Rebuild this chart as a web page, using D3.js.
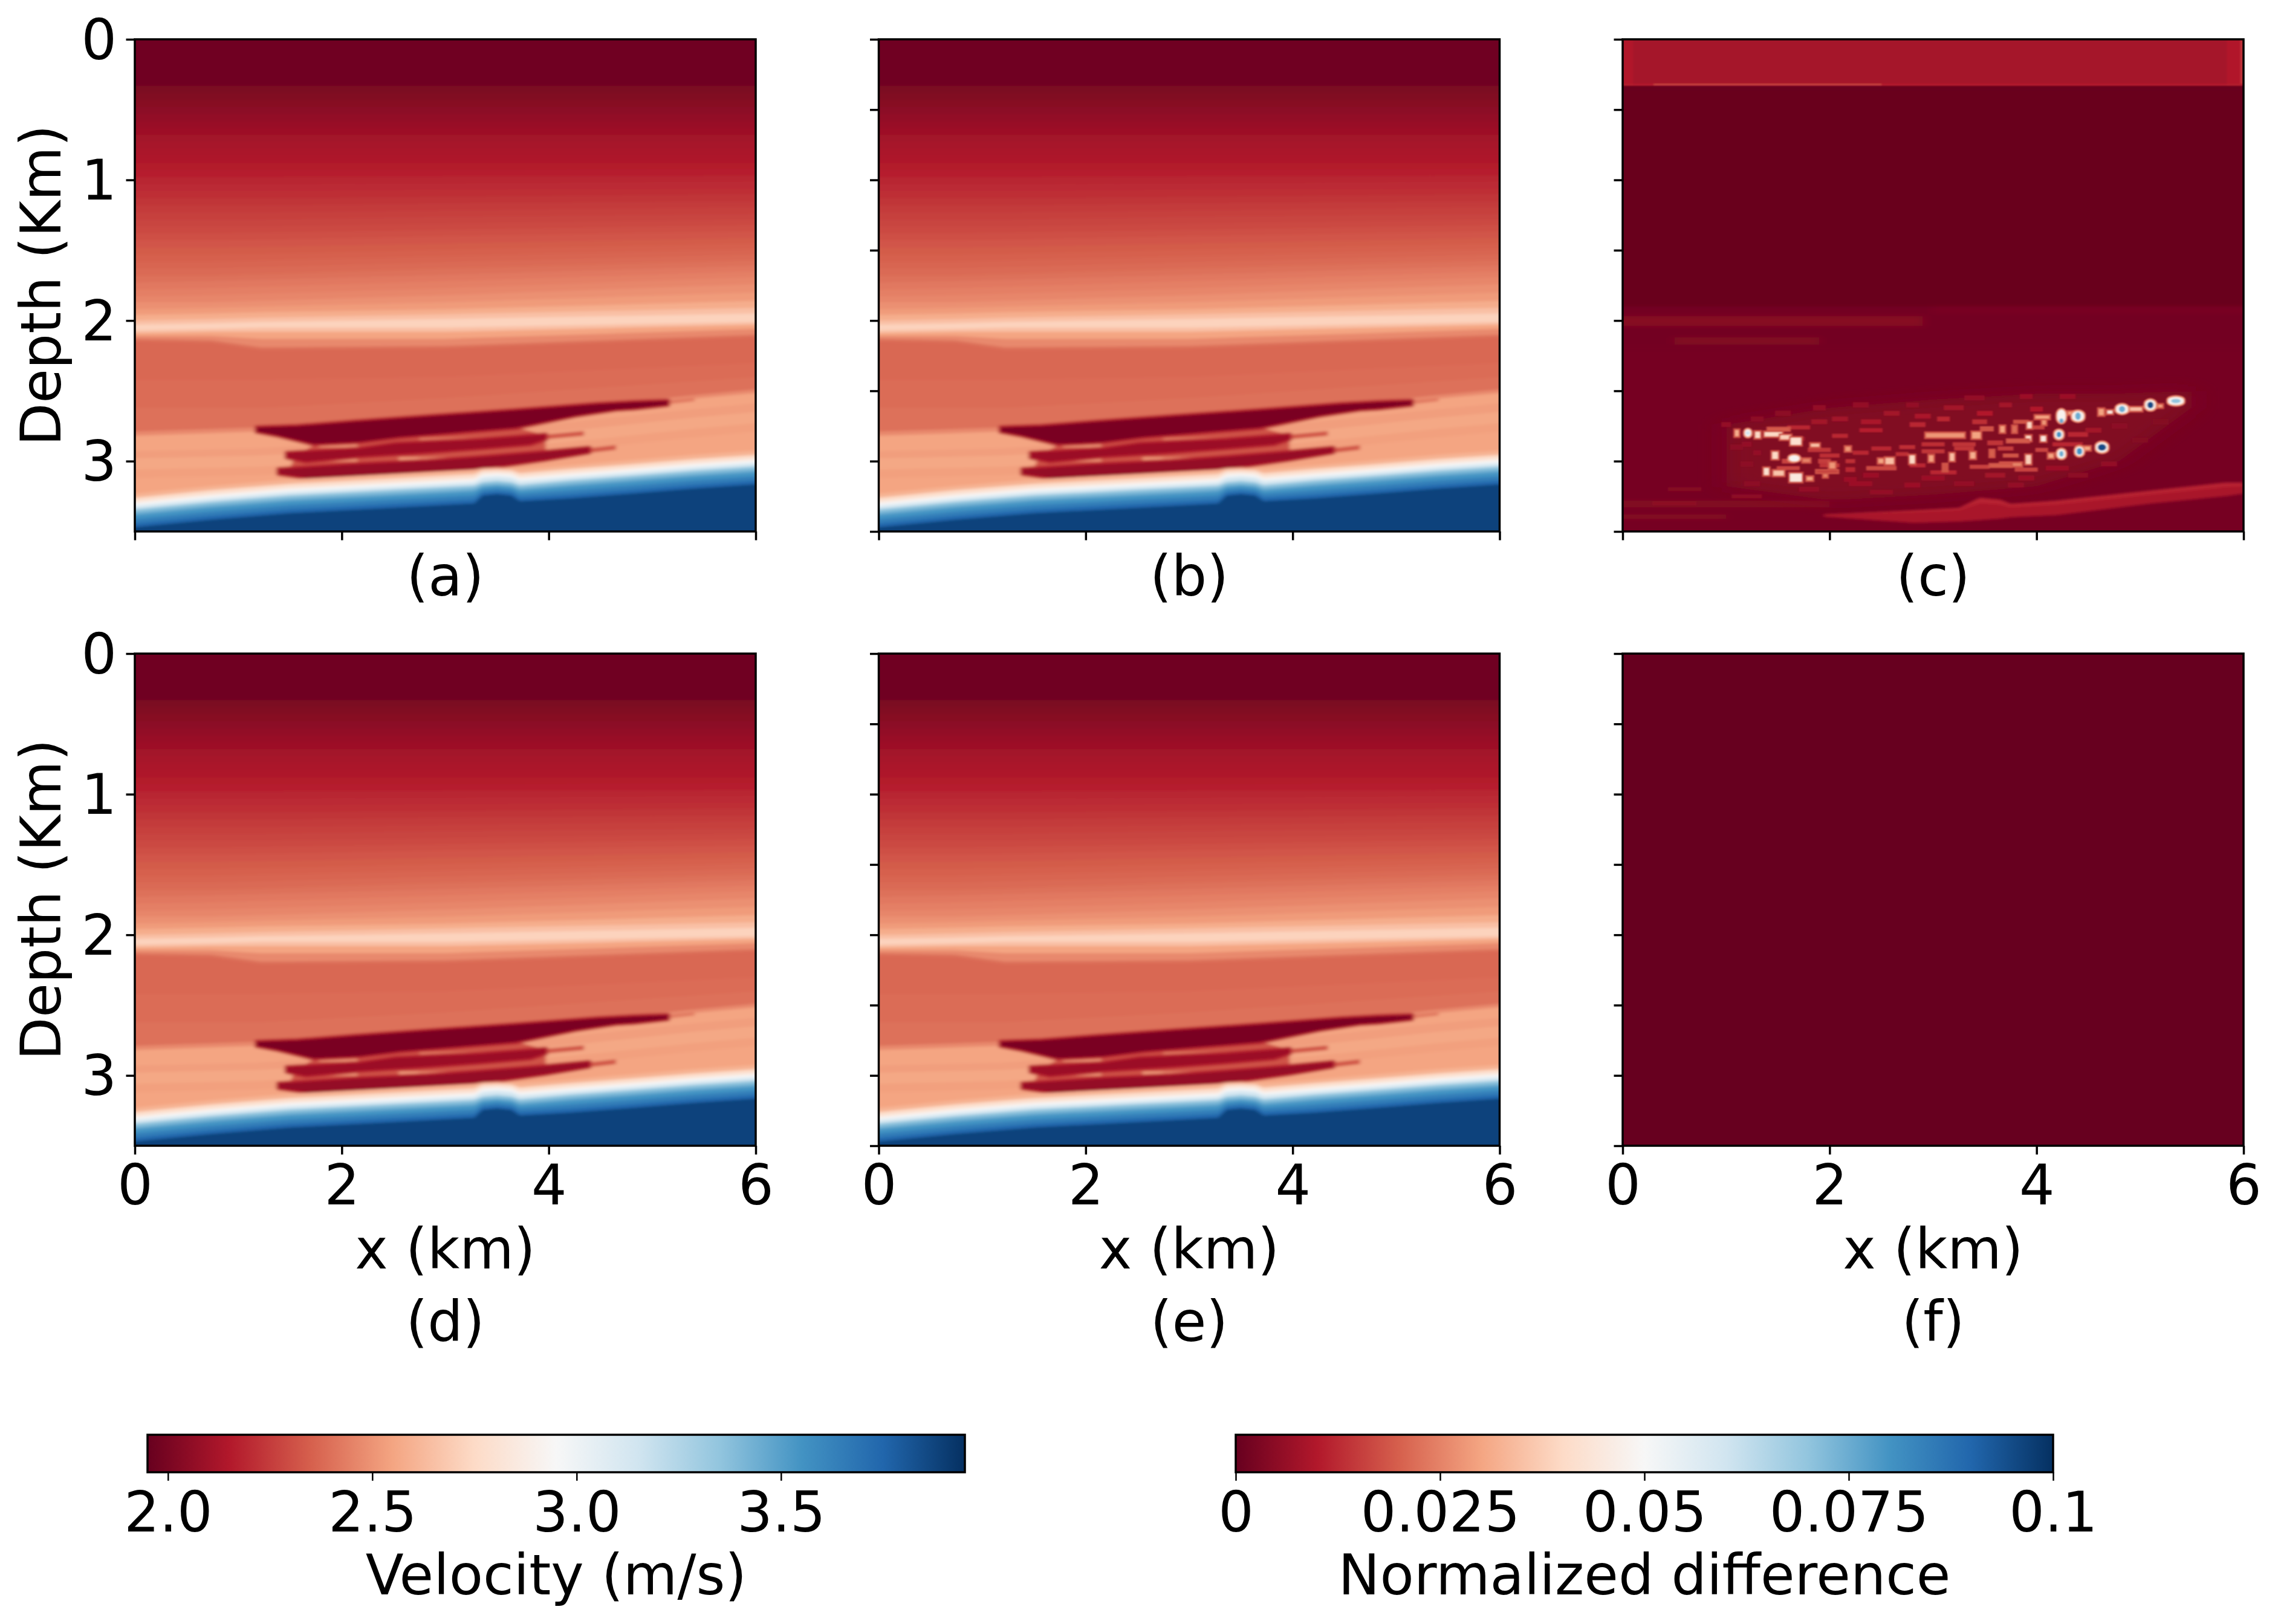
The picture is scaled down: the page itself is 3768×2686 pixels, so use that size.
<!DOCTYPE html>
<html>
<head>
<meta charset="utf-8">
<script src="https://cdn.jsdelivr.net/npm/d3@7"></script>
<style>
  body { margin: 0; background: #fff; }
  text { font-family: "DejaVu Sans", sans-serif; fill: #000; }
</style>
</head>
<body>
<svg id="chart" width="3768" height="2686"></svg>
<script>
// colour map, same stops for both colorbars
const rdbu = ["#67001f","#b2182b","#d6604d","#f4a582","#fddbc7","#f7f7f7","#d1e5f0","#92c5de","#4393c3","#2166ac","#053061"];
const velocityRange = [1.95, 3.95];
const diffRange = [0, 0.1];

const panelLabels = ["(a)", "(b)", "(c)", "(d)", "(e)", "(f)"];
const panelKinds = ["model", "model", "diff", "model", "model", "flat"];
const xTicks = [0, 2, 4, 6];
const depthTicks = [0, 1, 2, 3];
const depthMinorTicks = [0, 0.5, 1, 1.5, 2, 2.5, 3, 3.5];
const velocityTicks = [2.0, 2.5, 3.0, 3.5];
const velocityTickLabels = ["2.0", "2.5", "3.0", "3.5"];
const diffTicks = [0, 0.025, 0.05, 0.075, 0.1];
const diffTickLabels = ["0", "0.025", "0.05", "0.075", "0.1"];

// velocity contours of the upper part, depth (km) at each of these x (km)
const upperX = [0, 0.74, 1.22, 3, 6];
const upperV = [1.97, 2.005, 2.02, 2.035, 2.05, 2.065, 2.08, 2.095, 2.11, 2.12, 2.13, 2.14, 2.155, 2.17, 2.185, 2.20, 2.215, 2.23, 2.245, 2.26, 2.275, 2.29, 2.305, 2.32, 2.335, 2.35, 2.365, 2.38, 2.40, 2.42, 2.44, 2.46, 2.49, 2.52, 2.58, 2.65, 2.72, 2.65, 2.55, 2.47, 2.40, 2.37, 2.385, 2.40];
const upperDepth = [
  [-0.3, -0.3, -0.3, -0.3, -0.3],
  [0.33, 0.33, 0.33, 0.33, 0.33],
  [0.38, 0.38, 0.38, 0.38, 0.38],
  [0.43, 0.43, 0.43, 0.43, 0.43],
  [0.48, 0.48, 0.48, 0.48, 0.48],
  [0.53, 0.53, 0.53, 0.53, 0.53],
  [0.58, 0.58, 0.58, 0.58, 0.58],
  [0.63, 0.63, 0.63, 0.63, 0.63],
  [0.68, 0.68, 0.68, 0.68, 0.68],
  [0.73, 0.73, 0.73, 0.73, 0.73],
  [0.78, 0.78, 0.78, 0.78, 0.78],
  [0.83, 0.83, 0.83, 0.83, 0.83],
  [0.88, 0.88, 0.88, 0.88, 0.88],
  [0.93, 0.93, 0.93, 0.93, 0.92],
  [0.98, 0.98, 0.98, 0.975, 0.97],
  [1.03, 1.03, 1.03, 1.025, 1.01],
  [1.08, 1.08, 1.08, 1.07, 1.06],
  [1.13, 1.13, 1.13, 1.12, 1.10],
  [1.18, 1.18, 1.18, 1.165, 1.15],
  [1.23, 1.23, 1.23, 1.215, 1.19],
  [1.28, 1.28, 1.28, 1.26, 1.24],
  [1.33, 1.33, 1.33, 1.31, 1.28],
  [1.38, 1.38, 1.375, 1.355, 1.32],
  [1.43, 1.43, 1.425, 1.40, 1.365],
  [1.48, 1.48, 1.475, 1.45, 1.41],
  [1.53, 1.53, 1.525, 1.495, 1.45],
  [1.58, 1.58, 1.57, 1.54, 1.49],
  [1.63, 1.63, 1.62, 1.585, 1.53],
  [1.68, 1.68, 1.67, 1.63, 1.57],
  [1.73, 1.72, 1.71, 1.675, 1.61],
  [1.78, 1.77, 1.76, 1.72, 1.65],
  [1.83, 1.82, 1.81, 1.77, 1.69],
  [1.87, 1.87, 1.86, 1.82, 1.74],
  [1.92, 1.91, 1.90, 1.87, 1.80],
  [1.96, 1.95, 1.94, 1.92, 1.86],
  [2.00, 1.99, 1.98, 1.955, 1.91],
  [2.03, 2.02, 2.01, 1.99, 1.95],
  [2.07, 2.06, 2.05, 2.05, 2.01],
  [2.09, 2.08, 2.08, 2.08, 2.03],
  [2.11, 2.11, 2.13, 2.13, 2.06],
  [2.13, 2.14, 2.19, 2.18, 2.10],
  [2.15, 2.16, 2.21, 2.20, 2.12],
  [2.42, 2.42, 2.42, 2.40, 2.30],
  [2.62, 2.62, 2.62, 2.55, 2.40]
];

// sediment layer under the reflector, same idea
const midX = [0, 1.18, 2.5, 3.7, 4.5, 5.4, 6];
const midV = [2.47, 2.55, 2.53, 2.56, 2.535, 2.55];
const midDepth = [
  [2.79, 2.76, 2.76, 2.66, 2.60, 2.53, 2.49],
  [2.82, 2.79, 2.78, 2.68, 2.62, 2.555, 2.515],
  [2.93, 2.91, 2.85, 2.76, 2.70, 2.63, 2.59],
  [2.98, 2.96, 2.91, 2.82, 2.76, 2.69, 2.65],
  [3.06, 3.04, 2.99, 2.90, 2.84, 2.77, 2.73],
  [3.12, 3.10, 3.05, 2.96, 2.90, 2.83, 2.79]
];

// dipping interface and the bump near x = 3.5
const seabedX = [0, 0.74, 1.5, 2.4, 3.28, 3.36, 3.5, 3.64, 3.72, 4.2, 4.83, 5.4, 6];
const seabedV = [2.6, 2.75, 2.85, 2.95, 3.05, 3.15, 3.35, 3.45, 3.55, 3.65, 3.75, 3.88];
const seabedDepth = [
  [3.23, 3.176, 3.13, 3.095, 3.06, 3.05, 3.045, 3.05, 3.055, 3.03, 2.99, 2.955, 2.925],
  [3.26, 3.206, 3.16, 3.125, 3.09, 3.065, 3.06, 3.065, 3.085, 3.055, 3.02, 2.985, 2.955],
  [3.282, 3.228, 3.182, 3.147, 3.113, 3.08, 3.075, 3.08, 3.106, 3.077, 3.041, 3.007, 2.977],
  [3.30, 3.246, 3.20, 3.165, 3.131, 3.098, 3.09, 3.098, 3.124, 3.095, 3.059, 3.025, 2.995],
  [3.312, 3.258, 3.212, 3.177, 3.143, 3.11, 3.102, 3.11, 3.136, 3.107, 3.071, 3.037, 3.007],
  [3.325, 3.271, 3.225, 3.19, 3.156, 3.125, 3.115, 3.125, 3.15, 3.12, 3.084, 3.05, 3.02],
  [3.342, 3.288, 3.242, 3.207, 3.173, 3.15, 3.14, 3.15, 3.17, 3.137, 3.101, 3.067, 3.037],
  [3.363, 3.309, 3.263, 3.228, 3.194, 3.168, 3.16, 3.168, 3.19, 3.158, 3.122, 3.088, 3.058],
  [3.384, 3.33, 3.284, 3.249, 3.215, 3.185, 3.175, 3.185, 3.21, 3.179, 3.143, 3.109, 3.079],
  [3.414, 3.36, 3.314, 3.279, 3.245, 3.205, 3.195, 3.205, 3.235, 3.209, 3.173, 3.139, 3.109],
  [3.444, 3.39, 3.344, 3.309, 3.275, 3.225, 3.215, 3.225, 3.26, 3.239, 3.203, 3.169, 3.139],
  [3.47, 3.416, 3.37, 3.335, 3.301, 3.245, 3.235, 3.245, 3.285, 3.265, 3.229, 3.195, 3.165]
];

// low velocity lenses as outlines [x, depth]
const lensV = [2.31, 2.33, 2.33, 2.43, 2.0, 2.09, 2.07];
const lensEdge = [false, false, false, false, true, true, true];
const lensOutlines = [
  // lighter fill between the lenses
  [[1.55,2.96],[1.75,2.88],[2.2,2.86],[3.68,2.76],[3.97,2.815],[3.97,2.94],[3.35,2.97],[2.17,3.02],[1.5,3.05]],
  // faint tails
  [[3.9,2.815],[4.34,2.785],[4.34,2.82],[3.9,2.85]],
  [[4.3,2.915],[4.65,2.885],[4.65,2.92],[4.3,2.95]],
  [[5.1,2.575],[5.41,2.55],[5.41,2.575],[5.1,2.60]],
  // lens 1
  [[1.18,2.762],[1.57,2.752],[2.15,2.718],[2.90,2.679],[3.68,2.639],[4.47,2.595],[4.83,2.581],[5.15,2.572],[5.15,2.598],[4.83,2.624],[4.65,2.632],[4.26,2.675],[3.68,2.762],[2.56,2.827],[2.17,2.863],[1.73,2.878],[1.36,2.813],[1.18,2.789]],
  // lens 2
  [[1.47,2.943],[2.17,2.914],[2.51,2.878],[3.35,2.849],[3.97,2.813],[3.97,2.842],[3.82,2.878],[3.35,2.907],[2.82,2.936],[2.17,2.965],[1.65,3.001],[1.47,2.972]],
  // lens 3
  [[1.39,3.059],[2.17,3.023],[2.82,3.001],[3.35,2.972],[3.97,2.936],[4.39,2.907],[4.39,2.936],[3.97,2.987],[3.35,3.052],[2.82,3.074],[2.17,3.11],[1.73,3.132],[1.6,3.11],[1.39,3.088]]
];

// lighter patches inside the lens gaps: x0, x1, depth, velocity
const gapStreaks = [
  [1.78, 2.15, 2.89, 2.5], [2.75, 3.2, 2.985, 2.47], [2.55, 2.75, 2.985, 2.52], [1.8, 2.15, 2.99, 2.5], [2.75, 3.4, 2.845, 2.42]
];

// panel (c): boxes x0, x1, depth0, depth1, value
const diffBroad = [
  [-0.2, 6.2, 0.34, 1.9, 0.0002],
  [-0.2, 6.2, 1.9, 2.2, 0.0016],
  [-0.2, 2.9, 1.97, 2.04, 0.0042],
  [3.0, 6.2, 1.9, 1.95, 0.0024],
  [0.5, 1.9, 2.12, 2.17, 0.0036],
  [-0.2, 6.2, 2.2, 3.7, 0.002],
  [-0.2, 2, 3.28, 3.33, 0.0036],
  [-0.2, 1, 3.38, 3.41, 0.004]
];
const diffTop = [
  [0, 6, 0, 0.33, 0.0082],
  [0, 0.1, 0, 0.33, 0.0098],
  [5.84, 6, 0, 0.33, 0.0098],
  [5.97, 6, 0, 0.33, 0.014],
  [0, 6, 0.315, 0.33, 0.0105],
  [0.3, 2.5, 0.316, 0.328, 0.016]
];
const diffHaloOutline = [[1.0,2.74],[2,2.62],[3,2.56],[4,2.52],[4.7,2.52],[5.5,2.5],[5.5,2.62],[4.8,3.0],[4,3.18],[3,3.24],[2,3.28],[1.0,3.18]];
const seabedBandX = [1.94, 2.81, 3.25, 3.45, 3.65, 3.75, 4.19, 5.09, 5.83, 6];
const seabedBandTop = [3.38, 3.35, 3.332, 3.26, 3.274, 3.303, 3.281, 3.21, 3.152, 3.152];
const seabedBandBottom = [3.395, 3.44, 3.43, 3.42, 3.41, 3.40, 3.385, 3.303, 3.25, 3.231];
const seabedBandBright = [3.385, 3.365, 3.35, 3.30, 3.31, 3.33, 3.31, 3.24, 3.185, 3.18];

// speckle: x, depth, width, height, value
const speckle = [
  [1.3,2.7,.1,.02,.005],[1.55,2.66,.13,.02,.005],[1.9,2.62,.1,.02,.006],[2.3,2.6,.13,.02,.006],[2.8,2.6,.1,.017,.006],[3.4,2.55,.17,.017,.006],[3.9,2.54,.1,.017,.007],[4.3,2.54,.13,.017,.007],
  [4.0,2.63,.1,.017,.01],[3.5,2.66,.13,.017,.01],[2.9,2.68,.13,.017,.009],[2.4,2.72,.17,.017,.009],[1.9,2.72,.13,.017,.008],[1.1,2.9,.1,.02,.005],[1.2,3.02,.1,.02,.005],[1.25,3.16,.13,.02,.005],
  [1.8,3.2,.17,.017,.006],[2.3,3.16,.2,.017,.007],[2.8,3.17,.13,.017,.007],[3.3,3.16,.17,.017,.006],[3.8,3.17,.13,.017,.006],[4.4,3.1,.17,.017,.005],[4.7,3.02,.13,.017,.006],[5.0,2.85,.13,.02,.004],
  [5.2,2.72,.13,.02,.004],[4.8,2.75,.13,.02,.005],[2.5,3.22,.2,.014,.006],[1.2,3.25,.27,.012,.005],[0.6,3.2,.3,.012,.004],[0.5,3.3,.4,.012,.005],[1.7,2.84,.1,.012,.008],[2.2,3.13,.1,.017,.007],
  [1.7,2.76,.2,.012,.012],[2.1,2.82,.13,.012,.012],[2.4,2.78,.2,.012,.011],[2.85,2.74,.13,.017,.012],[3.1,2.7,.1,.017,.012],[3.45,2.72,.12,.017,.013],
  [1.9,2.92,.2,.014,.014],[2.0,2.96,.17,.012,.013],[2.3,2.94,.13,.012,.012],[2.5,2.91,.17,.012,.012],[2.75,2.9,.13,.012,.013],[3.0,2.88,.2,.012,.013],
  [3.3,2.88,.2,.012,.014],[3.6,2.87,.13,.017,.014],[2.7,2.95,.1,.012,.013],[3.0,2.93,.2,.012,.014],[3.3,2.91,.17,.012,.014],[3.7,2.91,.13,.012,.015],
  [1.6,3.0,.1,.017,.016],[1.95,3.0,.1,.017,.015],[2.2,3.0,.07,.012,.013],[1.6,3.05,.2,.012,.016],[2.0,3.03,.17,.012,.014],[2.2,3.06,.07,.017,.012],
  [2.5,3.05,.27,.014,.017],[2.85,3.03,.13,.012,.012],[3.1,3.08,.23,.012,.012],[3.45,3.04,.17,.012,.016],[3.9,3.06,.2,.012,.016],[2.4,3.1,.13,.017,.007],
  [3.0,3.12,.2,.017,.007],[3.6,3.1,.17,.017,.008],[3.9,3.12,.13,.017,.007],[4.2,3.05,.2,.017,.007],[2.1,2.7,.13,.017,.008],[2.6,2.66,.13,.017,.008],
  [3.2,2.62,.17,.017,.008],[3.7,2.6,.1,.017,.008],[4.3,2.88,.27,.012,.012],[4.4,2.81,.17,.017,.012],[4.55,2.78,.13,.017,.008],[4.05,2.92,.1,.012,.016],
  [3.75,2.96,.13,.012,.018],[4.0,2.76,.13,.012,.016],[3.85,2.72,.13,.012,.018],[1.2,2.88,.07,.017,.006],[1.0,2.74,.07,.017,.006],[1.3,2.94,.05,.017,.006]
];
const brightCells = [
  [1.104,2.801,.034,.043,.032],[1.305,2.813,.047,.043,.04],[1.507,2.773,.2,.011,.02],[1.456,2.809,.168,.029,.04],[1.574,2.83,.1,.029,.038],[1.674,2.859,.1,.05,.042],
  [1.859,2.887,.08,.02,.035],[1.473,2.959,.054,.049,.04],[1.775,2.995,.067,.02,.025],[2.026,3.031,.054,.04,.028],[2.177,2.913,.047,.029,.028],[1.389,3.074,.047,.049,.042],
  [1.507,3.085,.1,.034,.036],[1.674,3.117,.114,.057,.045],[1.808,3.124,.054,.023,.03],[1.959,3.102,.034,.02,.025],[1.976,3.074,.2,.011,.015],[2.58,2.999,.08,.043,.035],
  [2.496,2.999,.047,.029,.03],[2.798,2.988,.047,.057,.04],[2.982,2.981,.04,.043,.03],[3.183,2.971,.04,.052,.035],[3.384,2.959,.047,.043,.032],[3.569,2.945,.034,.043,.02],
  [3.116,2.816,.37,.029,.028],[3.418,2.816,.08,.043,.03],[3.921,2.988,.047,.063,.038],[4.139,2.962,.047,.029,.03],[3.753,3.024,.2,.02,.025],[3.653,3.031,.2,.011,.02],
  [3.116,3.045,.034,.043,.018],[3.921,2.837,.047,.034,.04],[4.065,2.84,.047,.037,.045],[3.82,2.856,.2,.011,.02],[3.67,2.773,.04,.043,.03],[3.787,2.773,.034,.043,.022],
  [3.931,2.744,.04,.043,.04],[4.072,2.723,.034,.034,.028],[4.055,2.687,.134,.02,.03],[4.625,2.651,.047,.043,.03],[4.709,2.651,.047,.02,.045],[4.96,2.63,.114,.023,.035],
  [5.195,2.608,.04,.017,.03],[4.491,2.909,.054,.023,.03],[3.519,2.77,.1,.011,.018],[4.357,2.658,.1,.017,.03]
];
// white halos with a blue core: x, depth, halo w, halo h, core w, core h, core value, core depth
const hotSpots = [
  [5.346,2.572,.15,.057,.084,.026,.07,2.572],
  [5.10,2.601,.10,.072,.054,.043,.095,2.601],
  [4.826,2.63,.114,.063,.054,.04,.075,2.63],
  [4.40,2.68,.114,.072,.047,.049,.075,2.68],
  [4.24,2.68,.08,.093,.034,.029,.075,2.713],
  [4.216,2.811,.08,.063,.04,.037,.08,2.811],
  [4.632,2.902,.114,.072,.074,.043,.095,2.902],
  [4.414,2.93,.08,.066,.047,.043,.08,2.93],
  [4.24,2.948,.08,.066,.034,.037,.075,2.948],
  [1.21,2.80,.06,.052,.034,.02,.06,2.80],
  [1.658,2.98,.10,.043,.03,.02,.052,2.98]
];

const svg = d3.select("#chart");

const panelW = 1027, panelH = 814;
const colX = [223, 1453.5, 2684];
const rowY = [65, 1081];

const x = d3.scaleLinear().domain([0, 6]).range([0, panelW]);
const y = d3.scaleLinear().domain([0, 3.5]).range([0, panelH]);
const colorStops = rdbu.map((c, i) => i / (rdbu.length - 1));
const velColor = d3.scaleLinear()
  .domain(colorStops.map(t => velocityRange[0] + t * (velocityRange[1] - velocityRange[0])))
  .range(rdbu).clamp(true);
const diffColor = d3.scaleLinear()
  .domain(colorStops.map(t => diffRange[0] + t * (diffRange[1] - diffRange[0])))
  .range(rdbu).clamp(true);

const defs = svg.append("defs");
defs.append("clipPath").attr("id", "panelClip").append("rect")
  .attr("width", panelW).attr("height", panelH);
function blurFilter(id, dev) {
  defs.append("filter").attr("id", id).attr("filterUnits", "userSpaceOnUse")
    .attr("x", -60).attr("y", -60).attr("width", panelW + 120).attr("height", panelH + 120)
    .append("feGaussianBlur").attr("stdDeviation", dev);
}
blurFilter("soft", "3 1.9");
blurFilter("softer", "1.6 1.1");
blurFilter("wide", "8 3");
blurFilter("widest", "22 12");

// fill from a contour down to the bottom; the paint order does the layering
function fillBelow(g, xs, depths, v) {
  const pad = [-0.3].concat(xs, [6.3]);
  const d2 = [depths[0]].concat(depths, [depths[depths.length - 1]]);
  const area = d3.area()
    .x((d, i) => x(pad[i]))
    .y0(d => y(d))
    .y1(y(3.8));
  g.append("path").attr("d", area(d2)).attr("fill", velColor(v));
}

function drawModel(g) {
  const f = g.append("g").attr("filter", "url(#soft)");
  upperDepth.forEach((row, i) => fillBelow(f, upperX, row, upperV[i]));
  midDepth.forEach((row, i) => fillBelow(f, midX, row, midV[i]));

  const outline = d3.line().x(d => x(d[0])).y(d => y(d[1])).curve(d3.curveLinearClosed);
  const lensOrder = lensOutlines.map((d, i) => i);
  f.selectAll(".lens").data(lensOrder.slice(0, 4)).enter().append("path")
    .attr("class", "lens")
    .attr("d", i => outline(lensOutlines[i]))
    .attr("fill", i => velColor(lensV[i]));

  f.selectAll(".streak").data(gapStreaks).enter().append("rect")
    .attr("class", "streak")
    .attr("x", d => x(d[0]))
    .attr("width", d => x(d[1]) - x(d[0]))
    .attr("y", d => y(d[2]) - 3)
    .attr("height", 6)
    .attr("fill", d => velColor(d[3]));

  // dark lenses get a red rim, outside the fill
  f.selectAll(".lensCore").data(lensOrder.filter(i => lensEdge[i])).enter().append("path")
    .attr("class", "lensCore")
    .attr("d", i => outline(lensOutlines[i]))
    .attr("fill", i => velColor(lensV[i]))
    .attr("stroke", velColor(2.17))
    .attr("stroke-width", 8)
    .attr("stroke-linejoin", "round")
    .style("paint-order", "stroke");

  seabedDepth.forEach((row, i) => fillBelow(f, seabedX, row, seabedV[i]));
}

function cellRect(g, data, cls, round, rim, rimWidth) {
  g.selectAll("." + cls).data(data).enter().append("rect")
    .attr("class", cls)
    .attr("x", d => x(d[0] - d[2] / 2))
    .attr("y", d => y(d[1] - d[3] / 2))
    .attr("width", d => x(d[2]))
    .attr("height", d => y(d[3]))
    .attr("rx", d => round ? x(d[2]) / 2 : 0)
    .attr("ry", d => round ? y(d[3]) / 2.5 : 0)
    .attr("fill", d => diffColor(d[4]))
    .attr("stroke", d => rim == null ? diffColor(d[4]) : diffColor(rim))
    .attr("stroke-width", rimWidth)
    .style("paint-order", "stroke");
}

function boxRects(g, data, cls) {
  g.selectAll("." + cls).data(data).enter().append("rect")
    .attr("class", cls)
    .attr("x", d => x(d[0]))
    .attr("width", d => x(d[1]) - x(d[0]))
    .attr("y", d => y(d[2]))
    .attr("height", d => y(d[3]) - y(d[2]))
    .attr("fill", d => diffColor(d[4]));
}

function drawDiff(g) {
  g.append("rect").attr("width", panelW).attr("height", panelH).attr("fill", diffColor(0.0002));
  const broad = g.append("g").attr("filter", "url(#wide)");
  boxRects(broad, diffBroad, "box");

  g.append("path")
    .attr("filter", "url(#widest)")
    .attr("d", d3.line().x(d => x(d[0])).y(d => y(d[1])).curve(d3.curveLinearClosed)(diffHaloOutline))
    .attr("fill", diffColor(0.0034));

  const top = g.append("g").attr("filter", "url(#softer)");
  boxRects(top, diffTop, "topBox");

  const band = bottoms => d3.area()
    .x((d, i) => x(seabedBandX[i]))
    .y0(d => y(d))
    .y1((d, i) => y(bottoms[i]))(seabedBandTop);
  const bandGroup = g.append("g").attr("filter", "url(#soft)");
  bandGroup.append("path").attr("d", band(seabedBandBottom)).attr("fill", diffColor(0.0088));
  bandGroup.append("path").attr("d", band(seabedBandBright)).attr("fill", diffColor(0.0115));

  const f = g.append("g").attr("filter", "url(#softer)");
  cellRect(f, speckle, "speck", false, null, 4);
  cellRect(f, brightCells, "bright", false, 0.018, 6);
  cellRect(f, hotSpots.map(d => [d[0], d[1], d[2], d[3], 0.048]), "halo", true, 0.026, 6);
  cellRect(f, hotSpots.map(d => [d[0], d[7], d[4], d[5], d[6]]), "core", true, null, 1);
}

panelLabels.forEach((label, i) => {
  const col = i % 3, row = Math.floor(i / 3);
  const g = svg.append("g").attr("transform", `translate(${colX[col]}, ${rowY[row]})`);

  const field = g.append("g").attr("clip-path", "url(#panelClip)");
  if (panelKinds[i] == "model") drawModel(field);
  if (panelKinds[i] == "diff") drawDiff(field);
  if (panelKinds[i] == "flat") {
    field.append("rect").attr("width", panelW).attr("height", panelH).attr("fill", diffColor(0));
  }

  // x axis, labels only on the lower row
  const xAxis = g.append("g")
    .attr("transform", `translate(0, ${panelH})`)
    .call(d3.axisBottom(x).tickValues(xTicks).tickSize(14.5).tickPadding(17)
      .tickFormat(d => row == 1 ? d : ""));
  // y axis, labels only on the first column
  const yAxis = g.append("g")
    .call(d3.axisLeft(y).tickValues(col == 0 ? depthTicks : depthMinorTicks).tickSize(14.5).tickPadding(15.5)
      .tickFormat(d => col == 0 ? d : ""));
  [xAxis, yAxis].forEach(a => {
    a.select(".domain").remove();
    a.selectAll("line").attr("stroke", "#000").attr("stroke-width", 3.5);
    a.selectAll("text").attr("font-size", 92).attr("font-family", "DejaVu Sans").attr("fill", "#000");
  });
  yAxis.selectAll("text").attr("dy", "0.35em");

  g.append("rect")
    .attr("width", panelW).attr("height", panelH)
    .attr("fill", "none").attr("stroke", "#000").attr("stroke-width", 3.5);

  g.append("text")
    .attr("x", panelW / 2)
    .attr("y", row == 0 ? 985 - rowY[0] : 2218 - rowY[1])
    .attr("text-anchor", "middle").attr("font-size", 92)
    .text(label);

  if (row == 1) {
    g.append("text")
      .attr("x", panelW / 2)
      .attr("y", 2098 - rowY[1])
      .attr("text-anchor", "middle").attr("font-size", 92)
      .text("x (km)");
  }
  if (col == 0) {
    g.append("text")
      .attr("transform", `translate(${100 - colX[0]}, ${panelH / 2}) rotate(-90)`)
      .attr("text-anchor", "middle").attr("font-size", 92)
      .text("Depth (Km)");
  }
});

// colorbars
const barY = 2373, barH = 62, barW = 1352;
const grad = defs.append("linearGradient").attr("id", "rdbuGrad");
grad.selectAll("stop").data(rdbu).enter().append("stop")
  .attr("offset", (d, i) => colorStops[i])
  .attr("stop-color", d => d);

function colorbar(left, range, ticks, tickLabels, title) {
  const scale = d3.scaleLinear().domain(range).range([0, barW]);
  const g = svg.append("g").attr("transform", `translate(${left}, ${barY})`);
  g.append("rect").attr("width", barW).attr("height", barH)
    .attr("fill", "url(#rdbuGrad)").attr("stroke", "#000").attr("stroke-width", 3.5);
  const axis = g.append("g")
    .attr("transform", `translate(0, ${barH})`)
    .call(d3.axisBottom(scale).tickValues(ticks).tickSize(14).tickPadding(19)
      .tickFormat((d, i) => tickLabels[i]));
  axis.select(".domain").remove();
  axis.selectAll("line").attr("stroke", "#000").attr("stroke-width", 2.5);
  axis.selectAll("text").attr("font-size", 92).attr("font-family", "DejaVu Sans").attr("fill", "#000");
  g.append("text")
    .attr("x", barW / 2).attr("y", 2637 - barY)
    .attr("text-anchor", "middle").attr("font-size", 92)
    .text(title);
}
colorbar(244, velocityRange, velocityTicks, velocityTickLabels, "Velocity (m/s)");
colorbar(2044, diffRange, diffTicks, diffTickLabels, "Normalized difference");
</script>
</body>
</html>
